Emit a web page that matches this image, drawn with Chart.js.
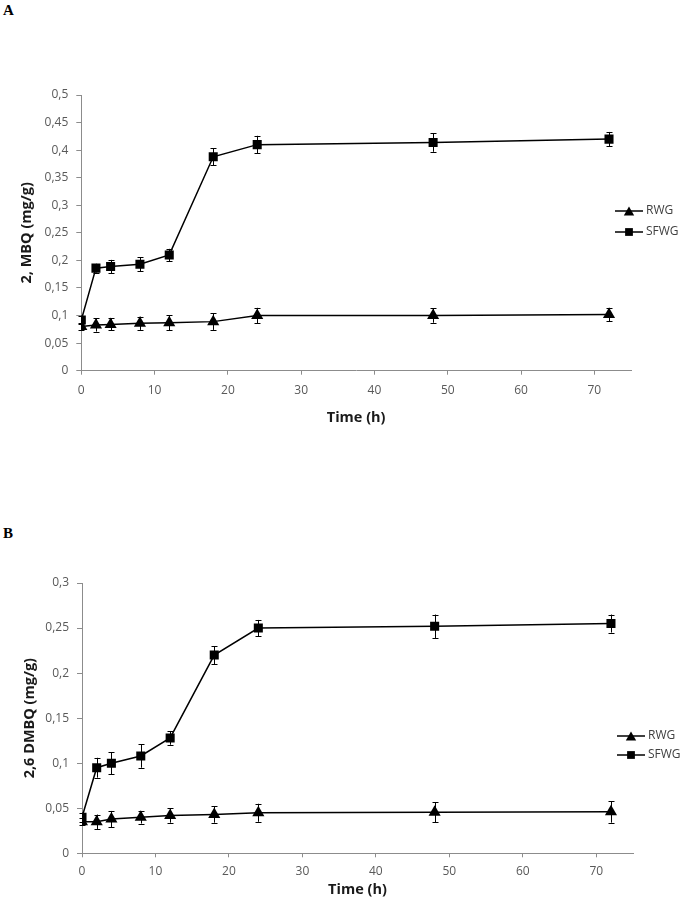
<!DOCTYPE html>
<html><head><meta charset="utf-8">
<script src="https://cdn.jsdelivr.net/npm/chart.js@4/dist/chart.umd.min.js"></script>
<style>
html,body{margin:0;padding:0;background:#fff;width:685px;height:900px;overflow:hidden}
.panel{position:absolute;left:0;width:685px;height:450px}
.lbl{position:absolute;left:3px;font:bold 15px "Liberation Serif",serif;color:#000;line-height:15px}
</style></head><body>
<div class="lbl" style="top:3px">A</div>
<div class="lbl" style="top:526px">B</div>
<div class="panel" style="top:0"><canvas id="cA" width="685" height="450"></canvas></div>
<div class="panel" style="top:450px"><canvas id="cB" width="685" height="450"></canvas></div>
<script>
// ---- data ----
const times = [0, 2, 4, 8, 12, 18, 24, 48, 72];
const seriesNames = ['RWG', 'SFWG'];

// Panel A: 2, MBQ (mg/g)
const rwgA      = [0.080, 0.083, 0.084, 0.086, 0.087, 0.089, 0.100, 0.100, 0.102];
const rwgAErr   = [0.006, 0.012, 0.011, 0.012, 0.014, 0.015, 0.014, 0.013, 0.012];
const sfwgA     = [0.092, 0.186, 0.189, 0.193, 0.210, 0.388, 0.410, 0.414, 0.420];
const sfwgAErr  = [0.008, 0.008, 0.012, 0.013, 0.011, 0.015, 0.016, 0.017, 0.013];

// Panel B: 2,6 DMBQ (mg/g)
const rwgB      = [0.035, 0.035, 0.038, 0.040, 0.042, 0.043, 0.045, 0.0455, 0.046];
const rwgBErr   = [0.004, 0.008, 0.009, 0.007, 0.008, 0.009, 0.010, 0.011, 0.012];
const sfwgB     = [0.040, 0.095, 0.100, 0.108, 0.128, 0.220, 0.250, 0.252, 0.255];
const sfwgBErr  = [0.005, 0.011, 0.012, 0.013, 0.0075, 0.010, 0.009, 0.013, 0.010];

// ticks
const xTickValues = [0, 10, 20, 30, 40, 50, 60, 70];
const xTickLabels = ['0', '10', '20', '30', '40', '50', '60', '70'];
const yTickValuesA = [0, 0.05, 0.1, 0.15, 0.2, 0.25, 0.3, 0.35, 0.4, 0.45, 0.5];
const yTickLabelsA = ['0', '0,05', '0,1', '0,15', '0,2', '0,25', '0,3', '0,35', '0,4', '0,45', '0,5'];
const yTickValuesB = [0, 0.05, 0.1, 0.15, 0.2, 0.25, 0.3];
const yTickLabelsB = ['0', '0,05', '0,1', '0,15', '0,2', '0,25', '0,3'];

const yTitleA = '2, MBQ (mg/g)';
const yTitleB = '2,6 DMBQ (mg/g)';
const xTitle = 'Time (h)';

// ---- plugins ----
const errorBarPlugin = {
  id: 'errorBars',
  afterDatasetsDraw(chart) {
    const ctx = chart.ctx, ys = chart.scales.y;
    ctx.save();
    ctx.strokeStyle = '#000';
    ctx.lineWidth = 1;
    chart.data.datasets.forEach((ds, i) => {
      const meta = chart.getDatasetMeta(i);
      ds.errors.forEach((e, j) => {
        const pt = meta.data[j];
        const v = ds.data[j].y;
        const yt = ys.getPixelForValue(v + e), yb = ys.getPixelForValue(v - e);
        const x = Math.round(pt.x) + 0.5;
        ctx.beginPath();
        ctx.moveTo(x, yt); ctx.lineTo(x, yb);
        ctx.moveTo(x - 3, Math.round(yt) + 0.5); ctx.lineTo(x + 3, Math.round(yt) + 0.5);
        ctx.moveTo(x - 3, Math.round(yb) + 0.5); ctx.lineTo(x + 3, Math.round(yb) + 0.5);
        ctx.stroke();
      });
    });
    ctx.restore();
  }
};

const lineLegendPlugin = {
  id: 'lineLegend',
  afterDraw(chart, args, opts) {
    const ctx = chart.ctx;
    ctx.save();
    chart.data.datasets.forEach((ds, i) => {
      const y = opts.y[i], x0 = opts.x;
      ctx.strokeStyle = ds.borderColor;
      ctx.lineWidth = ds.borderWidth;
      ctx.beginPath();
      ctx.moveTo(x0, y); ctx.lineTo(x0 + 28, y);
      ctx.stroke();
      ctx.fillStyle = ds.pointBackgroundColor;
      Chart.helpers.drawPoint(ctx, {
        pointStyle: ds.pointStyle,
        radius: ds.pointStyle === 'triangle' ? 6 : 5.5,
        rotation: 0,
        borderWidth: 0
      }, x0 + 14, ds.pointStyle === 'triangle' ? y + 1.5 : y);
      ctx.fillStyle = '#404040';
      ctx.font = '12px "Open Sans"';
      ctx.textBaseline = 'middle';
      ctx.textAlign = 'left';
      ctx.fillText(ds.label, x0 + 31, y);
    });
    ctx.restore();
  }
};

function pts(vals) { return times.map((t, i) => ({x: t, y: vals[i]})); }

function makeChart(id, cfg) {
  const axisGray = '#8c8c8c';
  return new Chart(document.getElementById(id), {
    type: 'line',
    data: {
      datasets: [
        {label: seriesNames[0], data: pts(cfg.rwg), errors: cfg.rwgErr,
         borderColor: '#000', borderWidth: 1.5, pointStyle: 'triangle', pointRadius: 7,
         pointBackgroundColor: '#000', pointBorderColor: '#000', pointBorderWidth: 0, tension: 0, fill: false},
        {label: seriesNames[1], data: pts(cfg.sfwg), errors: cfg.sfwgErr,
         borderColor: '#000', borderWidth: 1.5, pointStyle: 'rect', pointRadius: 6.4,
         pointBackgroundColor: '#000', pointBorderColor: '#000', pointBorderWidth: 0, tension: 0, fill: false}
      ]
    },
    options: {
      responsive: false,
      animation: false,
      devicePixelRatio: 1,
      layout: {padding: cfg.padding},
      plugins: {
        legend: {display: false},
        tooltip: {enabled: false},
        lineLegend: cfg.legend
      },
      scales: {
        x: {
          type: 'linear', min: 0, max: 75,
          afterBuildTicks: s => { s.ticks = xTickValues.map(v => ({value: v})); },
          afterFit: s => { s.height = cfg.xHeight; },
          ticks: {callback: (v, i) => xTickLabels[i], color: '#595959', font: {family: 'Open Sans', size: 12}, padding: cfg.xTickPad, maxRotation: 0},
          grid: {drawOnChartArea: false, drawTicks: true, tickLength: 4, color: axisGray},
          border: {display: true, color: axisGray, width: 1},
          title: {display: true, text: xTitle, color: '#1a1a1a', font: {family: 'Open Sans', size: 14.5, weight: 'bold'}, padding: 0}
        },
        y: {
          type: 'linear', min: 0, max: cfg.yMax,
          afterBuildTicks: s => { s.ticks = cfg.yTickValues.map(v => ({value: v})); },
          afterFit: s => { s.width = cfg.yWidth; },
          ticks: {callback: (v, i) => cfg.yTickLabels[i], color: '#595959', font: {family: 'Open Sans', size: 12}, padding: 8},
          grid: {drawOnChartArea: false, drawTicks: true, tickLength: 5, color: axisGray},
          border: {display: true, color: axisGray, width: 1},
          title: {display: true, text: cfg.yTitle, color: '#1a1a1a', font: {family: 'Open Sans', size: 14.5, weight: 'bold'}, padding: 0}
        }
      }
    },
    plugins: [errorBarPlugin, lineLegendPlugin]
  });
}

makeChart('cA', {
  rwg: rwgA, rwgErr: rwgAErr, sfwg: sfwgA, sfwgErr: sfwgAErr,
  yMax: 0.5, yTickValues: yTickValuesA, yTickLabels: yTickLabelsA, yTitle: yTitleA,
  padding: {left: 18, right: 54, top: 95, bottom: 23},
  yWidth: 63.3, xHeight: 56.3, xTickPad: 9,
  legend: {x: 615, y: [211, 232]}
});

makeChart('cB', {
  rwg: rwgB, rwgErr: rwgBErr, sfwg: sfwgB, sfwgErr: sfwgBErr,
  yMax: 0.3, yTickValues: yTickValuesB, yTickLabels: yTickLabelsB, yTitle: yTitleB,
  padding: {left: 21, right: 52, top: 133, bottom: 1},
  yWidth: 61, xHeight: 45.7, xTickPad: 7,
  legend: {x: 617, y: [286, 305]}
});
</script>
</body></html>
